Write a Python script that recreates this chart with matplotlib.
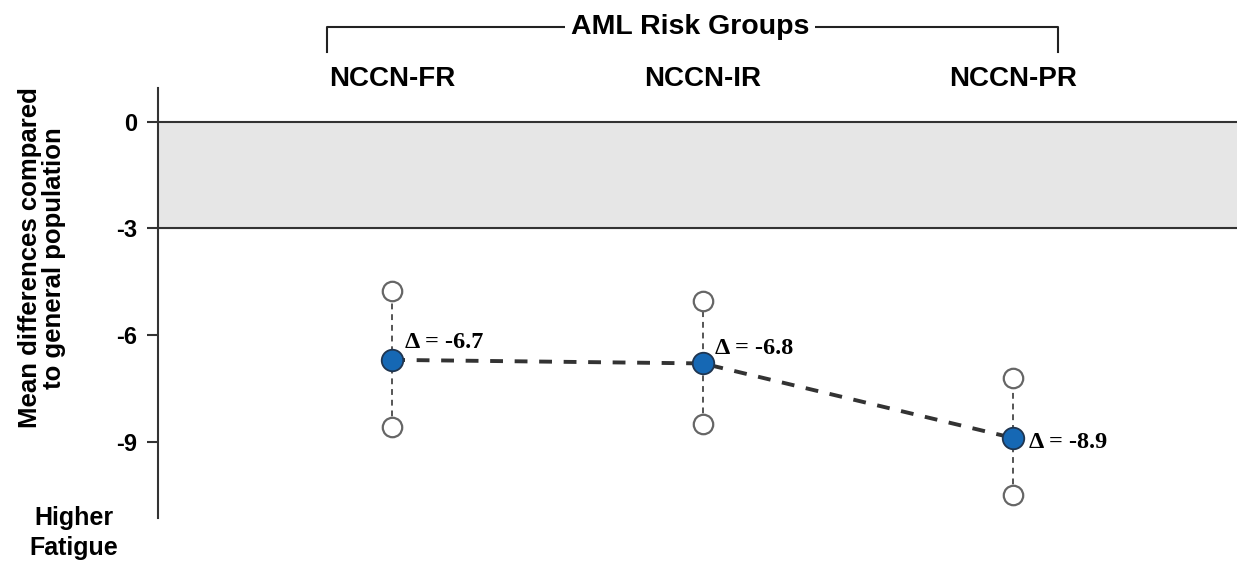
import numpy as np
import matplotlib.pyplot as plt
from matplotlib.lines import Line2D

groups = ['NCCN-FR', 'NCCN-IR', 'NCCN-PR']
mean_diff = [-6.7, -6.8, -8.9]
ci_upper = [-4.75, -5.05, -7.2]
ci_lower = [-8.6, -8.5, -10.5]
delta_labels = ['Δ = -6.7', 'Δ = -6.8', 'Δ = -8.9']
yticks = [0, -3, -6, -9]

plt.rcParams['font.family'] = ['Liberation Sans', 'DejaVu Sans']
plt.rcParams['font.weight'] = 'bold'

fig = plt.figure(figsize=(12.37, 5.66), dpi=100)
ax = fig.add_axes([0.1277, 0.0848, 0.8723, 0.7597])

x = np.arange(len(groups))

# clinically relevant band
ax.axhspan(-3, 0, color='#e6e6e6', zorder=0)
ax.axhline(0, color='#333333', lw=1.5, zorder=1)
ax.axhline(-3, color='#333333', lw=1.5, zorder=1)

# confidence intervals
for xi, lo, hi in zip(x, ci_lower, ci_upper):
    ax.plot([xi, xi], [lo, hi], ls=(0, (3, 2.5)), color='#555555', lw=1.4, zorder=2)
ax.plot(x, ci_upper, 'o', ms=14, mfc='white', mec='#666666', mew=1.6, ls='none', zorder=3)
ax.plot(x, ci_lower, 'o', ms=14, mfc='white', mec='#666666', mew=1.6, ls='none', zorder=3)

# means
ax.plot(x, mean_diff, ls=(0, (3.3, 3)), color='#333333', lw=2.8, zorder=4)
ax.plot(x, mean_diff, 'o', ms=15.5, mfc='#1668b4', mec='#1f3550', mew=1.3, ls='none', zorder=5)

offsets = [(9, 5), (9, 3), (11, -3)]
for xi, yi, lab, off in zip(x, mean_diff, delta_labels, offsets):
    ax.annotate(lab, (xi, yi), xytext=off, textcoords='offset points',
                fontsize=17.5, fontweight='bold', va='bottom' if off[1] > 0 else 'center',
                family=['Liberation Serif', 'DejaVu Serif'])

ax.set_xlim(-0.754, 2.72)
ax.set_ylim(-11.15, 0.95)
ax.set_yticks(yticks)
ax.set_yticklabels([str(t) for t in yticks], fontsize=17, fontweight='bold')
ax.tick_params(axis='y', length=8, width=1.5, color='#333333', pad=7)
ax.set_xticks([])
for s in ['top', 'right', 'bottom']:
    ax.spines[s].set_visible(False)
ax.spines['left'].set_color('#333333')
ax.spines['left'].set_linewidth(1.5)

# group labels above the axes
for xi, g in zip(x, groups):
    ax.text(xi, 1.02, g, transform=ax.get_xaxis_transform(), ha='center', va='center',
            fontsize=20, fontweight='bold')

# bracket
fig.add_artist(Line2D([327 / 1237, 327 / 1237, 1058 / 1237, 1058 / 1237],
                      [1 - 52 / 566, 1 - 27 / 566, 1 - 27 / 566, 1 - 52 / 566],
                      color='#222222', lw=1.5))
fig.text(690 / 1237, 1 - 27 / 566, 'AML Risk Groups', ha='center', va='center',
         fontsize=20.5, fontweight='bold',
         bbox=dict(facecolor='white', edgecolor='none', pad=4))

fig.text(42 / 1237, 1 - 258 / 566, 'Mean differences compared\nto general population',
         rotation=90, ha='center', va='center', fontsize=18.5, fontweight='bold',
         linespacing=1.0)
fig.text(74 / 1237, 1 - 533 / 566, 'Higher\nFatigue', ha='center', va='center',
         fontsize=18, fontweight='bold', linespacing=1.3)

fig.savefig('out.png', dpi=100)
